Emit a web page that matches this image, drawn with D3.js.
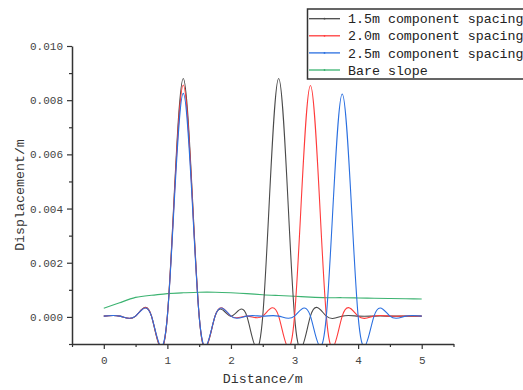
<!DOCTYPE html>
<html>
<head>
<meta charset="utf-8">
<script src="https://cdn.jsdelivr.net/npm/d3@7/dist/d3.min.js"></script>
<style>
  html, body { margin: 0; padding: 0; background: #fff; }
  svg { display: block; }
</style>
</head>
<body>
<svg id="chart" width="523" height="390"></svg>
<script>
// ---- data ----
const distance = [0, 0.25, 0.5, 0.75, 1.0, 1.25, 1.5, 1.75, 2.0, 2.25, 2.5, 2.75, 3.0, 3.25, 3.5, 3.75, 4.0, 4.25, 4.5, 4.75, 5.0];
const spacing15 = [0.00003, 0.00003, 0.00003, 0.00003, 0.00003, 0.0088, 0.00003, 0.00003, 0.00003, 0.00003, 0.00003, 0.0088, 0.00003, 0.00003, 0.00003, 0.00003, 0.00003, 0.00003, 0.00003, 0.00003, 0.00003];
const spacing20 = [0.00003, 0.00003, 0.00003, 0.00003, 0.00003, 0.00856, 0.00003, 0.00003, 0.00003, 0.00003, 0.00003, 0.00003, 0.00003, 0.00854, 0.00003, 0.00003, 0.00003, 0.00003, 0.00003, 0.00003, 0.00003];
const spacing25 = [0.00003, 0.00003, 0.00003, 0.00003, 0.00003, 0.00825, 0.00003, 0.00003, 0.00003, 0.00003, 0.00003, 0.00003, 0.00003, 0.00003, 0.00003, 0.00823, 0.00003, 0.00003, 0.00003, 0.00003, 0.00003];
const bareSlope = [0.00032, 0.00052, 0.00072, 0.00080, 0.00086, 0.00089, 0.00091, 0.00091, 0.00089, 0.00086, 0.00082, 0.00079, 0.00076, 0.00073, 0.00071, 0.00071, 0.00070, 0.00069, 0.00068, 0.00067, 0.00066];
const seriesNames = ["1.5m component spacing", "2.0m component spacing", "2.5m component spacing", "Bare slope"];
const seriesColors = ["#4a4a4a", "#ff3b3b", "#2a6fe0", "#3cb371"];
const xTicks = [0, 1, 2, 3, 4, 5];
const yTicks = [0, 0.002, 0.004, 0.006, 0.008, 0.010];
const xMinorTicks = [-0.5, 0.5, 1.5, 2.5, 3.5, 4.5, 5.5];
const yMinorTicks = [-0.001, 0.001, 0.003, 0.005, 0.007, 0.009];
const xTitle = "Distance/m";
const yTitle = "Displacement/m";

// ---- layout ----
const svg = d3.select("#chart");
const mLeft = 72, mRight = 453.5, mTop = 46, mBottom = 344;
const x = d3.scaleLinear().domain([-0.5, 5.5]).range([mLeft, mRight]);
const y = d3.scaleLinear().domain([-0.001, 0.010]).range([mBottom, mTop]);
const axisColor = "#333";
const monoFont = "'Liberation Mono', 'DejaVu Sans Mono', monospace";

svg.append("defs").append("clipPath").attr("id", "plotClip")
  .append("rect").attr("x", mLeft).attr("y", mTop - 20).attr("width", mRight - mLeft).attr("height", mBottom - mTop + 20);

const seriesData = [spacing15, spacing20, spacing25, bareSlope];
const line = d3.line()
  .x((d, i) => x(distance[i]))
  .y(d => y(d))
  .curve(d3.curveNatural);

const plot = svg.append("g").attr("clip-path", "url(#plotClip)");
[3, 0, 1, 2].forEach(k => {
  plot.append("path")
    .datum(seriesData[k])
    .attr("d", line)
    .attr("fill", "none")
    .attr("stroke", seriesColors[k])
    .attr("stroke-width", 1.1);
});

// ---- axes ----
const xAxis = d3.axisBottom(x).tickValues(xTicks).tickFormat(d3.format("d")).tickSize(5).tickSizeOuter(0);
const gx = svg.append("g").attr("transform", `translate(0,${mBottom})`).call(xAxis);
gx.select(".domain").attr("stroke", axisColor).attr("stroke-width", 1.5);
gx.selectAll(".tick line").attr("stroke", axisColor).attr("stroke-width", 1.2);
gx.selectAll(".tick text").attr("fill", "#444").attr("font-family", monoFont).attr("font-size", 11).attr("dy", "1.1em");
const gxm = svg.append("g").attr("transform", `translate(0,${mBottom})`)
  .call(d3.axisBottom(x).tickValues(xMinorTicks).tickFormat("").tickSize(3).tickSizeOuter(0));
gxm.select(".domain").remove();
gxm.selectAll(".tick line").attr("stroke", axisColor).attr("stroke-width", 1.2);

const yAxis = d3.axisLeft(y).tickValues(yTicks).tickFormat(d3.format(".3f")).tickSize(5).tickSizeOuter(0);
const gy = svg.append("g").attr("transform", `translate(${mLeft},0)`).call(yAxis);
gy.select(".domain").attr("stroke", axisColor).attr("stroke-width", 1.5);
gy.selectAll(".tick line").attr("stroke", axisColor).attr("stroke-width", 1.2);
gy.selectAll(".tick text").attr("fill", "#444").attr("font-family", monoFont).attr("font-size", 11).attr("x", -9);
const gym = svg.append("g").attr("transform", `translate(${mLeft},0)`)
  .call(d3.axisLeft(y).tickValues(yMinorTicks).tickFormat("").tickSize(3).tickSizeOuter(0));
gym.select(".domain").remove();
gym.selectAll(".tick line").attr("stroke", axisColor).attr("stroke-width", 1.2);

// ---- titles ----
svg.append("text").attr("x", (mLeft + mRight) / 2).attr("y", 383)
  .attr("text-anchor", "middle").attr("font-family", monoFont).attr("font-size", 13.3).attr("fill", "#333")
  .text(xTitle);
svg.append("text").attr("transform", `translate(24,${(mTop + mBottom) / 2}) rotate(-90)`)
  .attr("text-anchor", "middle").attr("font-family", monoFont).attr("font-size", 13.3).attr("fill", "#333")
  .text(yTitle);

// ---- legend ----
const lg = svg.append("g");
lg.append("rect").attr("x", 307.5).attr("y", 9).attr("width", 230).attr("height", 70)
  .attr("fill", "#fff").attr("stroke", axisColor).attr("stroke-width", 1.5);
seriesNames.forEach((name, i) => {
  const ly = 18.7 + i * 17.1;
  lg.append("line").attr("x1", 309).attr("x2", 340).attr("y1", ly).attr("y2", ly)
    .attr("stroke", seriesColors[i]).attr("stroke-width", 1.3);
  lg.append("circle").attr("cx", 324.5).attr("cy", ly).attr("r", 0.9).attr("fill", seriesColors[i]);
  lg.append("text").attr("x", 348).attr("y", ly).attr("dy", "0.35em")
    .attr("font-family", monoFont).attr("font-size", 13.3).attr("fill", "#222")
    .text(name);
});
</script>
</body>
</html>
